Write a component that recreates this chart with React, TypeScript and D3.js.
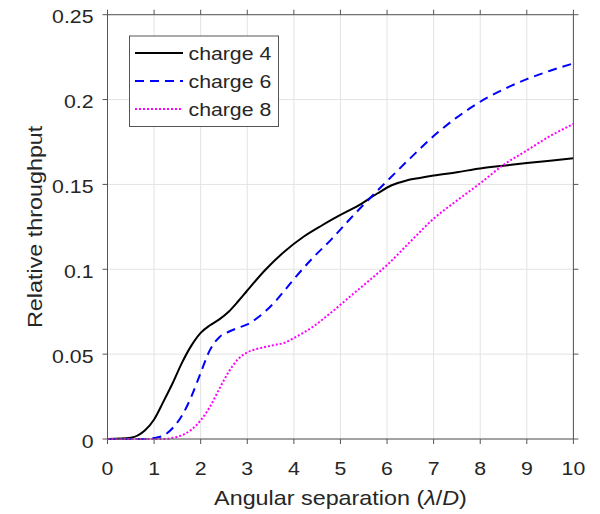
import React from "react";
import * as d3 from "d3";

const xTicks = [0, 1, 2, 3, 4, 5, 6, 7, 8, 9, 10];
const yTicks = [0, 0.05, 0.1, 0.15, 0.2, 0.25];
const yTickLabels = ["0", "0.05", "0.1", "0.15", "0.2", "0.25"];

const charge4X = [0, 0.5, 0.8, 1.0, 1.2, 1.4, 1.6, 1.8, 2.0, 2.2, 2.4, 2.6, 2.8, 3.0, 3.4, 3.8, 4.2, 4.6, 5.0, 5.4, 5.8, 6.1, 6.4, 6.7, 7.0, 7.5, 8.0, 8.5, 9.0, 9.5, 10];
const charge4Y = [0, 0.0008, 0.005, 0.0115, 0.022, 0.033, 0.045, 0.055, 0.0625, 0.067, 0.0705, 0.075, 0.081, 0.0875, 0.1, 0.1105, 0.119, 0.1258, 0.132, 0.1378, 0.1448, 0.1495, 0.1522, 0.1538, 0.1552, 0.1572, 0.1594, 0.161, 0.1626, 0.164, 0.1654];

const charge6X = [0, 0.8, 1.0, 1.2, 1.4, 1.6, 1.8, 2.0, 2.2, 2.4, 2.6, 2.8, 3.0, 3.2, 3.4, 3.6, 3.8, 4.0, 4.4, 4.8, 5.2, 5.6, 6.0, 6.5, 7.0, 7.5, 8.0, 8.5, 9.0, 9.5, 10];
const charge6Y = [0, 0, 0.0006, 0.002, 0.0065, 0.0138, 0.025, 0.039, 0.0525, 0.06, 0.0632, 0.0655, 0.0675, 0.071, 0.0755, 0.081, 0.0875, 0.0942, 0.1065, 0.1175, 0.1295, 0.141, 0.152, 0.1655, 0.1785, 0.1895, 0.1987, 0.206, 0.212, 0.217, 0.2213];

const charge8X = [0, 1.2, 1.4, 1.6, 1.8, 2.0, 2.2, 2.4, 2.6, 2.8, 3.0, 3.2, 3.4, 3.6, 3.8, 4.0, 4.4, 4.8, 5.2, 5.6, 6.0, 6.5, 7.0, 7.5, 8.0, 8.5, 9.0, 9.5, 10];
const charge8Y = [0, 0, 0.0007, 0.0022, 0.0055, 0.011, 0.019, 0.0295, 0.0395, 0.047, 0.051, 0.053, 0.0543, 0.0555, 0.0567, 0.0595, 0.066, 0.0745, 0.0838, 0.093, 0.1025, 0.1163, 0.1298, 0.1405, 0.1507, 0.1615, 0.17, 0.1785, 0.1856];

const seriesNames = ["charge 4", "charge 6", "charge 8"];
const seriesColors = ["#000000", "#0000ff", "#ff00ff"];
const seriesDash = ["none", "9,6", "2,2"];

const W = 600;
const H = 514;
const SX = 1.15;
const FONT = "'Liberation Sans', Arial, Helvetica, sans-serif";
const TXT = "#262626";

function T({ x, y, anchor = "start", size = 18.5, rotate = false, children }: any) {
  return (
    <text
      transform={`translate(${x},${y})${rotate ? " rotate(-90)" : ""} scale(${SX},1)`}
      textAnchor={anchor}
      fontSize={size}
      fontFamily={FONT}
      fill={TXT}
    >
      {children}
    </text>
  );
}

export default function App() {
  const x = d3.scaleLinear().domain([0, 10]).range([107.5, 573.4]);
  const y = d3.scaleLinear().domain([0, 0.25]).range([439, 14.7]);
  const line = d3
    .line<[number, number]>()
    .x((d) => x(d[0]))
    .y((d) => y(d[1]))
    .curve(d3.curveMonotoneX);

  const series = [
    charge4X.map((v, i) => [v, charge4Y[i]] as [number, number]),
    charge6X.map((v, i) => [v, charge6Y[i]] as [number, number]),
    charge8X.map((v, i) => [v, charge8Y[i]] as [number, number]),
  ];

  const x0 = x(0), x1 = x(10), y0 = y(0), y1 = y(0.25);
  const axisColor = "#555555";
  const tl = 5;

  return (
    <svg
      width={W}
      height={H}
      style={{ position: "absolute", left: 0, top: 0, background: "#fff" }}
    >
      <rect x={0} y={0} width={W} height={H} fill="#fff" />
      <g stroke="#e3e3e3" strokeWidth={1}>
        {xTicks.map((t) => (
          <line key={"gx" + t} x1={x(t)} x2={x(t)} y1={y0} y2={y1} />
        ))}
        {yTicks.map((t) => (
          <line key={"gy" + t} x1={x0} x2={x1} y1={y(t)} y2={y(t)} />
        ))}
      </g>
      {series.map((s, i) => (
        <path
          key={i}
          d={line(s) || ""}
          fill="none"
          stroke={seriesColors[i]}
          strokeWidth={2}
          strokeDasharray={seriesDash[i]}
        />
      ))}
      <g stroke={axisColor} strokeWidth={1} fill="none">
        <rect x={x0} y={y1} width={x1 - x0} height={y0 - y1} />
        {xTicks.map((t) => (
          <g key={"tx" + t}>
            <line x1={x(t)} x2={x(t)} y1={y0} y2={y0 + tl} />
            <line x1={x(t)} x2={x(t)} y1={y1} y2={y1 - tl} />
          </g>
        ))}
        {yTicks.map((t) => (
          <g key={"ty" + t}>
            <line x1={x0} x2={x0 - tl} y1={y(t)} y2={y(t)} />
            <line x1={x1} x2={x1 + tl} y1={y(t)} y2={y(t)} />
          </g>
        ))}
      </g>
      {xTicks.map((t) => (
        <T key={"lx" + t} x={x(t)} y={475} anchor="middle">
          {String(t)}
        </T>
      ))}
      {yTicks.map((t, i) => (
        <T key={"ly" + t} x={93.5} y={y(t) + 8.5} anchor="end">
          {yTickLabels[i]}
        </T>
      ))}
      <T x={(x0 + x1) / 2} y={505} anchor="middle" size={20.3}>
        Angular separation (<tspan fontStyle="italic">λ</tspan>/<tspan fontStyle="italic">D</tspan>)
      </T>
      <T x={42} y={(y0 + y1) / 2} anchor="middle" size={20.3} rotate>
        Relative throughput
      </T>
      <rect x={129.5} y={36} width={149} height={90.5} fill="#fff" stroke={axisColor} strokeWidth={1} />
      {seriesNames.map((n, i) => {
        const ly = 53 + i * 28;
        return (
          <g key={"lg" + i}>
            <line
              x1={135}
              x2={183}
              y1={ly}
              y2={ly}
              stroke={seriesColors[i]}
              strokeWidth={2}
              strokeDasharray={seriesDash[i]}
            />
            <T x={188.5} y={ly + 7}>
              {n}
            </T>
          </g>
        );
      })}
    </svg>
  );
}
